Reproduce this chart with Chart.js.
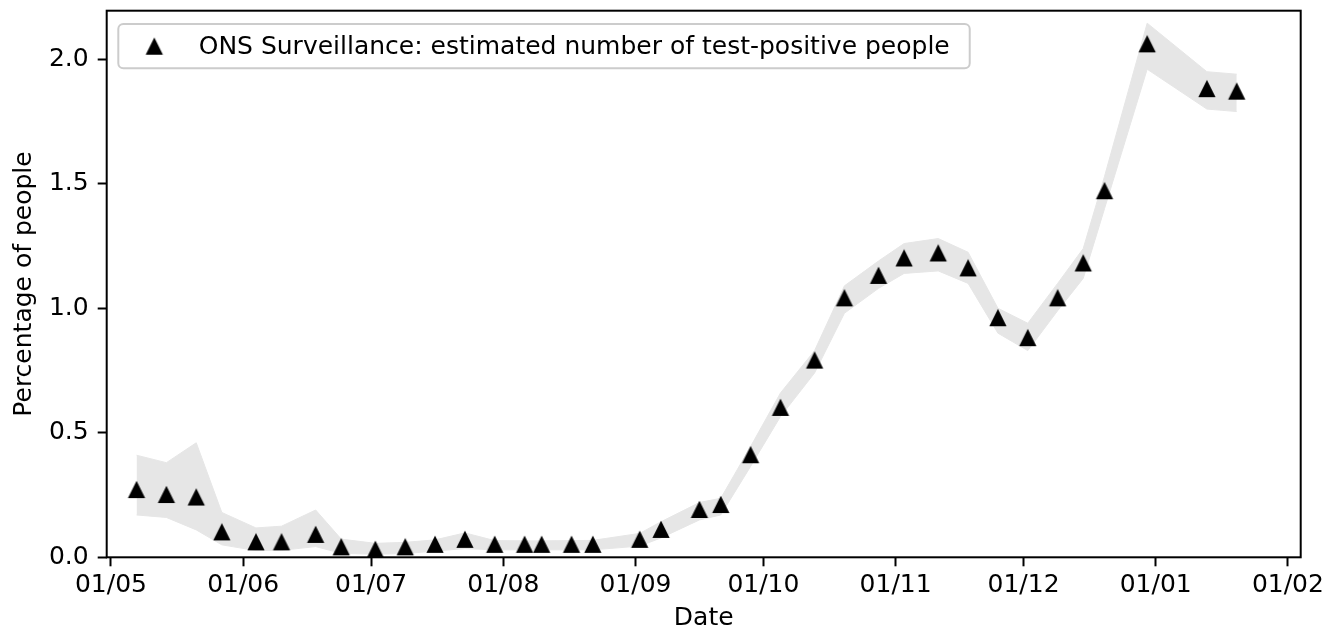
<!DOCTYPE html>
<html>
<head>
<meta charset="utf-8">
<title>ONS Surveillance</title>
<script src="https://cdn.jsdelivr.net/npm/chart.js@4.4.1/dist/chart.umd.min.js"></script>
<style>
  html, body { margin: 0; padding: 0; background: #fff; }
  #wrap { width: 1330px; height: 632px; }
</style>
</head>
<body>
<div id="wrap"><canvas id="chart" width="1330" height="632"></canvas></div>
<script>
/* Survey dates (mid-points of the ONS reporting weeks) */
var DATES = [
  '2020-05-07', '2020-05-14', '2020-05-21', '2020-05-27', '2020-06-04', '2020-06-10',
  '2020-06-18', '2020-06-24', '2020-07-02', '2020-07-09', '2020-07-16', '2020-07-23',
  '2020-07-30', '2020-08-06', '2020-08-10', '2020-08-17', '2020-08-22', '2020-09-02',
  '2020-09-07', '2020-09-16', '2020-09-21', '2020-09-28', '2020-10-05', '2020-10-13',
  '2020-10-20', '2020-10-28', '2020-11-03', '2020-11-11', '2020-11-18', '2020-11-25',
  '2020-12-02', '2020-12-09', '2020-12-15', '2020-12-20', '2020-12-30', '2021-01-13',
  '2021-01-20'
];

/* Estimated % of people testing positive */
var ESTIMATE = [
  0.27, 0.25, 0.24, 0.10, 0.06, 0.06, 0.09, 0.04, 0.03, 0.04, 0.05, 0.07,
  0.05, 0.05, 0.05, 0.05, 0.05, 0.07, 0.11, 0.19, 0.21, 0.41, 0.60, 0.79,
  1.04, 1.13, 1.20, 1.22, 1.16, 0.96, 0.88, 1.04, 1.18, 1.47, 2.06, 1.88,
  1.87
];

/* 95% credible interval */
var LOWER = [
  0.17, 0.16, 0.11, 0.05, 0.027, 0.028, 0.043, 0.016, 0.012, 0.015, 0.025, 0.035,
  0.03, 0.03, 0.03, 0.03, 0.03, 0.045, 0.078, 0.15, 0.17, 0.365, 0.565, 0.74,
  0.98, 1.08, 1.14, 1.15, 1.10, 0.90, 0.83, 0.99, 1.12, 1.40, 1.96, 1.80,
  1.79
];
var UPPER = [
  0.41, 0.38, 0.46, 0.18, 0.118, 0.125, 0.19, 0.073, 0.056, 0.06, 0.07, 0.098,
  0.067, 0.066, 0.066, 0.067, 0.068, 0.096, 0.143, 0.22, 0.237, 0.445, 0.66, 0.83,
  1.09, 1.19, 1.26, 1.28, 1.225, 1.00, 0.94, 1.10, 1.24, 1.53, 2.145, 1.95,
  1.94
];

var X_TICK_DATES = [
  '2020-05-01', '2020-06-01', '2020-07-01', '2020-08-01', '2020-09-01',
  '2020-10-01', '2020-11-01', '2020-12-01', '2021-01-01', '2021-02-01'
];
var Y_TICKS = [0, 0.5, 1.0, 1.5, 2.0];
var X_RANGE = ['2020-04-30', '2021-02-04'];
var Y_RANGE = [0, 2.195];

var SERIES_LABEL = 'ONS Surveillance: estimated number of test-positive people';
var BAND_COLOR = '#e6e6e6';
var FONT_SIZE = 25;

/* x values are days since 1 May 2020 */
var ORIGIN = Date.UTC(2020, 4, 1);
function dayOf(s) {
  var p = s.split('-');
  return (Date.UTC(+p[0], +p[1] - 1, +p[2]) - ORIGIN) / 86400000;
}
function two(n) { return (n < 10 ? '0' : '') + n; }
function dayLabel(v) {
  var d = new Date(ORIGIN + v * 86400000);
  return two(d.getUTCDate()) + '/' + two(d.getUTCMonth() + 1);
}
function toPoints(values) {
  return values.map(function (v, i) { return { x: dayOf(DATES[i]), y: v }; });
}

/* filled black "^" marker, same width as height */
function makeTriangle(h, lw) {
  var c = document.createElement('canvas');
  c.width = 20; c.height = 20;
  var g = c.getContext('2d');
  g.beginPath();
  g.moveTo(10, 10 - h);
  g.lineTo(10 + h, 10 + h);
  g.lineTo(10 - h, 10 + h);
  g.closePath();
  g.fillStyle = '#000'; g.fill();
  g.lineWidth = lw; g.lineJoin = 'miter'; g.strokeStyle = '#000'; g.stroke();
  return c;
}
var TRIANGLE = makeTriangle(7, 2);

/* axes frame on all four sides */
var frame = {
  id: 'frame',
  afterDatasetsDraw: function (chart) {
    var a = chart.chartArea, ctx = chart.ctx;
    ctx.save();
    ctx.strokeStyle = '#000'; ctx.lineWidth = 2;
    ctx.strokeRect(a.left, a.top, a.right - a.left, a.bottom - a.top);
    ctx.restore();
  }
};

/* legend box in the upper left corner of the axes */
var legendBox = {
  id: 'legendBox',
  afterDraw: function (chart) {
    var a = chart.chartArea, ctx = chart.ctx;
    var x = a.left + 11.6, y = a.top + 13.3, h = 44.3;
    ctx.save();
    ctx.font = FONT_SIZE + 'px "DejaVu Sans"';
    var w = 80.4 + ctx.measureText(SERIES_LABEL).width + 20;
    ctx.beginPath();
    ctx.roundRect(x, y, w, h, 5);
    ctx.fillStyle = 'rgba(255,255,255,0.8)'; ctx.fill();
    ctx.strokeStyle = '#cccccc'; ctx.lineWidth = 2; ctx.stroke();
    ctx.drawImage(TRIANGLE, x + 36 - 10, y + 22.7 - 10);
    ctx.fillStyle = '#000'; ctx.textAlign = 'left'; ctx.textBaseline = 'alphabetic';
    ctx.fillText(SERIES_LABEL, x + 80.4, y + 29.6);
    ctx.restore();
  }
};

Chart.defaults.font.family = '"DejaVu Sans", sans-serif';
Chart.defaults.font.size = FONT_SIZE;
Chart.defaults.color = '#000';

new Chart(document.getElementById('chart'), {
  type: 'line',
  data: {
    datasets: [
      { label: SERIES_LABEL, data: toPoints(ESTIMATE), showLine: false, order: 0,
        pointStyle: TRIANGLE, pointRadius: 9, pointHoverRadius: 9 },
      { label: 'lower', data: toPoints(LOWER), order: 1, fill: false,
        borderColor: BAND_COLOR, borderWidth: 1, pointRadius: 0 },
      { label: 'upper', data: toPoints(UPPER), order: 1, fill: '-1',
        backgroundColor: BAND_COLOR, borderColor: BAND_COLOR, borderWidth: 1, pointRadius: 0 }
    ]
  },
  options: {
    responsive: false,
    animation: false,
    events: [],
    devicePixelRatio: 1,
    layout: { padding: { left: 0, top: 10.7, right: 29.3, bottom: 0 } },
    plugins: { legend: { display: false }, tooltip: { enabled: false } },
    scales: {
      x: {
        type: 'linear',
        min: dayOf(X_RANGE[0]), max: dayOf(X_RANGE[1]),
        afterBuildTicks: function (s) {
          s.ticks = X_TICK_DATES.map(function (d) { return { value: dayOf(d) }; });
        },
        afterFit: function (s) { s.height = 74.7; s.paddingLeft = 0; s.paddingRight = 0; },
        border: { display: false },
        grid: { drawOnChartArea: false, drawTicks: true, tickLength: 9, tickWidth: 2, tickColor: '#000' },
        ticks: { padding: 4, maxRotation: 0, autoSkip: false, callback: function (v) { return dayLabel(v); } },
        title: { display: true, text: 'Date', padding: { top: 0, bottom: 0 }, font: { size: FONT_SIZE, lineHeight: 1.1 } }
      },
      y: {
        min: Y_RANGE[0], max: Y_RANGE[1],
        afterBuildTicks: function (s) {
          s.ticks = Y_TICKS.map(function (v) { return { value: v }; });
        },
        afterFit: function (s) { s.width = 106.7; s.paddingTop = 0; s.paddingBottom = 0; },
        border: { display: false },
        grid: { drawOnChartArea: false, drawTicks: true, tickLength: 9, tickWidth: 2, tickColor: '#000' },
        ticks: { padding: 9, callback: function (v) { return v.toFixed(1); } },
        title: { display: true, text: 'Percentage of people', padding: { top: 11, bottom: 0 }, font: { size: FONT_SIZE, lineHeight: 1.1 } }
      }
    }
  },
  plugins: [frame, legendBox]
});
</script>
</body>
</html>
